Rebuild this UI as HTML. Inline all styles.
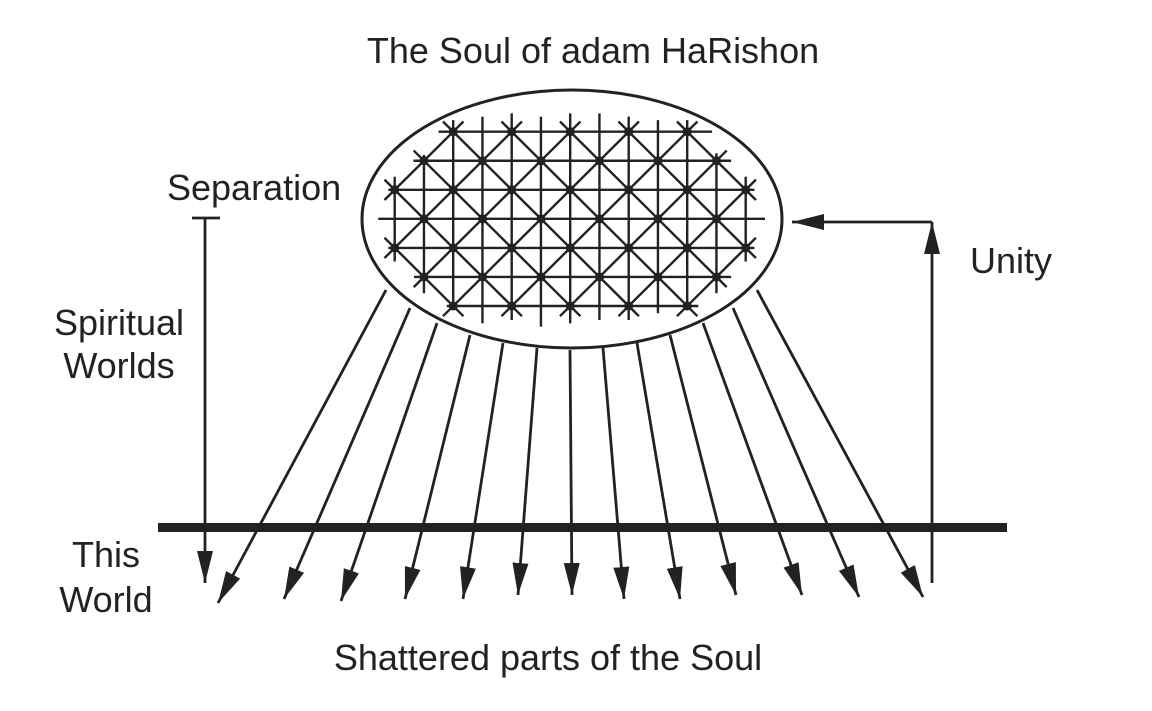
<!DOCTYPE html>
<html><head><meta charset="utf-8"><style>
html,body{margin:0;padding:0;background:#fff;}
svg{display:block;}
text{font-family:"Liberation Sans",sans-serif;font-size:36px;fill:#222;}
</style></head><body>
<svg width="1152" height="711" viewBox="0 0 1152 711" xmlns="http://www.w3.org/2000/svg">
<defs>
<marker id="ah" markerUnits="userSpaceOnUse" markerWidth="34" markerHeight="18" refX="32" refY="8" orient="auto">
<path d="M0,0 L32,8 L0,16 Z" fill="#222"/>
</marker>
</defs>
<text x="593" y="63" text-anchor="middle">The Soul of adam HaRishon</text>
<text x="167" y="200">Separation</text>
<text x="970" y="273">Unity</text>
<text x="119" y="335" text-anchor="middle">Spiritual</text>
<text x="119" y="378" text-anchor="middle">Worlds</text>
<text x="106" y="567" text-anchor="middle">This</text>
<text x="106" y="612" text-anchor="middle">World</text>
<text x="548" y="670" text-anchor="middle">Shattered parts of the Soul</text>

<ellipse cx="572" cy="219" rx="210" ry="129" fill="none" stroke="#222" stroke-width="3"/>

<g transform="translate(394.7,131.7) scale(29.25,29.05)" stroke="#222" fill="none">
<g stroke-width="2.4" vector-effect="non-scaling-stroke">
<line x1="1.5" y1="0" x2="10.85" y2="0" vector-effect="non-scaling-stroke"/>
<line x1="0.64" y1="1" x2="11.5" y2="1" vector-effect="non-scaling-stroke"/>
<line x1="-0.22" y1="2" x2="12.3" y2="2" vector-effect="non-scaling-stroke"/>
<line x1="-0.56" y1="3" x2="12.66" y2="3" vector-effect="non-scaling-stroke"/>
<line x1="-0.22" y1="4" x2="12.3" y2="4" vector-effect="non-scaling-stroke"/>
<line x1="0.66" y1="5" x2="11.5" y2="5" vector-effect="non-scaling-stroke"/>
<line x1="1.78" y1="6" x2="10.38" y2="6" vector-effect="non-scaling-stroke"/>

<line x1="0" y1="1.55" x2="0" y2="4.47" vector-effect="non-scaling-stroke"/>
<line x1="1" y1="0.8" x2="1" y2="5.56" vector-effect="non-scaling-stroke"/>
<line x1="2" y1="-0.4" x2="2" y2="6.14" vector-effect="non-scaling-stroke"/>
<line x1="3" y1="-0.52" x2="3" y2="6.6" vector-effect="non-scaling-stroke"/>
<line x1="4" y1="-0.63" x2="4" y2="6.48" vector-effect="non-scaling-stroke"/>
<line x1="5" y1="-0.52" x2="5" y2="6.71" vector-effect="non-scaling-stroke"/>
<line x1="6" y1="-0.63" x2="6" y2="6.6" vector-effect="non-scaling-stroke"/>
<line x1="7" y1="-0.63" x2="7" y2="6.48" vector-effect="non-scaling-stroke"/>
<line x1="8" y1="-0.52" x2="8" y2="6.48" vector-effect="non-scaling-stroke"/>
<line x1="9" y1="-0.4" x2="9" y2="6.25" vector-effect="non-scaling-stroke"/>
<line x1="10" y1="-0.4" x2="10" y2="6.14" vector-effect="non-scaling-stroke"/>
<line x1="11" y1="0.74" x2="11" y2="5.56" vector-effect="non-scaling-stroke"/>
<line x1="12" y1="1.55" x2="12" y2="4.47" vector-effect="non-scaling-stroke"/>

<line x1="-0.35" y1="3.65" x2="2.35" y2="6.35" vector-effect="non-scaling-stroke"/>
<line x1="-0.35" y1="1.65" x2="4.35" y2="6.35" vector-effect="non-scaling-stroke"/>
<line x1="0.65" y1="0.65" x2="6.35" y2="6.35" vector-effect="non-scaling-stroke"/>
<line x1="1.65" y1="-0.35" x2="8.35" y2="6.35" vector-effect="non-scaling-stroke"/>
<line x1="3.65" y1="-0.35" x2="10.35" y2="6.35" vector-effect="non-scaling-stroke"/>
<line x1="5.65" y1="-0.35" x2="11.35" y2="5.35" vector-effect="non-scaling-stroke"/>
<line x1="7.65" y1="-0.35" x2="12.35" y2="4.35" vector-effect="non-scaling-stroke"/>
<line x1="9.65" y1="-0.35" x2="12.35" y2="2.35" vector-effect="non-scaling-stroke"/>

<line x1="2.35" y1="-0.35" x2="-0.35" y2="2.35" vector-effect="non-scaling-stroke"/>
<line x1="4.35" y1="-0.35" x2="-0.35" y2="4.35" vector-effect="non-scaling-stroke"/>
<line x1="6.35" y1="-0.35" x2="0.65" y2="5.35" vector-effect="non-scaling-stroke"/>
<line x1="8.35" y1="-0.35" x2="1.65" y2="6.35" vector-effect="non-scaling-stroke"/>
<line x1="10.35" y1="-0.35" x2="3.65" y2="6.35" vector-effect="non-scaling-stroke"/>
<line x1="11.35" y1="0.65" x2="5.65" y2="6.35" vector-effect="non-scaling-stroke"/>
<line x1="12.35" y1="1.65" x2="7.65" y2="6.35" vector-effect="non-scaling-stroke"/>
<line x1="12.35" y1="3.65" x2="9.65" y2="6.35" vector-effect="non-scaling-stroke"/>
</g>
</g>
<g fill="#222">
<circle cx="453.2" cy="131.7" r="4.5"/><circle cx="511.7" cy="131.7" r="4.5"/><circle cx="570.2" cy="131.7" r="4.5"/><circle cx="628.7" cy="131.7" r="4.5"/><circle cx="687.2" cy="131.7" r="4.5"/>
<circle cx="424" cy="160.8" r="4.5"/><circle cx="482.5" cy="160.8" r="4.5"/><circle cx="541" cy="160.8" r="4.5"/><circle cx="599.5" cy="160.8" r="4.5"/><circle cx="658" cy="160.8" r="4.5"/><circle cx="716.5" cy="160.8" r="4.5"/>
<circle cx="394.7" cy="189.8" r="4.5"/><circle cx="453.2" cy="189.8" r="4.5"/><circle cx="511.7" cy="189.8" r="4.5"/><circle cx="570.2" cy="189.8" r="4.5"/><circle cx="628.7" cy="189.8" r="4.5"/><circle cx="687.2" cy="189.8" r="4.5"/><circle cx="745.7" cy="189.8" r="4.5"/>
<circle cx="424" cy="218.9" r="4.5"/><circle cx="482.5" cy="218.9" r="4.5"/><circle cx="541" cy="218.9" r="4.5"/><circle cx="599.5" cy="218.9" r="4.5"/><circle cx="658" cy="218.9" r="4.5"/><circle cx="716.5" cy="218.9" r="4.5"/>
<circle cx="394.7" cy="247.9" r="4.5"/><circle cx="453.2" cy="247.9" r="4.5"/><circle cx="511.7" cy="247.9" r="4.5"/><circle cx="570.2" cy="247.9" r="4.5"/><circle cx="628.7" cy="247.9" r="4.5"/><circle cx="687.2" cy="247.9" r="4.5"/><circle cx="745.7" cy="247.9" r="4.5"/>
<circle cx="424" cy="277" r="4.5"/><circle cx="482.5" cy="277" r="4.5"/><circle cx="541" cy="277" r="4.5"/><circle cx="599.5" cy="277" r="4.5"/><circle cx="658" cy="277" r="4.5"/><circle cx="716.5" cy="277" r="4.5"/>
<circle cx="453.2" cy="306" r="4.5"/><circle cx="511.7" cy="306" r="4.5"/><circle cx="570.2" cy="306" r="4.5"/><circle cx="628.7" cy="306" r="4.5"/><circle cx="687.2" cy="306" r="4.5"/>
</g>

<rect x="158" y="523" width="849" height="9" fill="#222"/>

<g stroke="#222" stroke-width="2.8" fill="none" marker-end="url(#ah)">
<line x1="386" y1="290" x2="218" y2="603"/>
<line x1="410" y1="308" x2="284" y2="599"/>
<line x1="437" y1="323" x2="341" y2="601"/>
<line x1="470" y1="335" x2="405" y2="599"/>
<line x1="503" y1="343" x2="463" y2="599"/>
<line x1="537" y1="348" x2="518" y2="595"/>
<line x1="570" y1="350" x2="572" y2="595"/>
<line x1="603" y1="348" x2="624" y2="599"/>
<line x1="637" y1="343" x2="680" y2="599"/>
<line x1="670" y1="335" x2="736" y2="595"/>
<line x1="703" y1="323" x2="802" y2="595"/>
<line x1="733" y1="308" x2="859" y2="597"/>
<line x1="757" y1="290" x2="923" y2="597"/>
<line x1="205" y1="218" x2="205" y2="583"/>
<line x1="932" y1="583" x2="932" y2="222"/>
<line x1="932" y1="222" x2="792" y2="222"/>
</g>
<line x1="192" y1="218" x2="220" y2="218" stroke="#222" stroke-width="2.8"/>
</svg>
</body></html>
